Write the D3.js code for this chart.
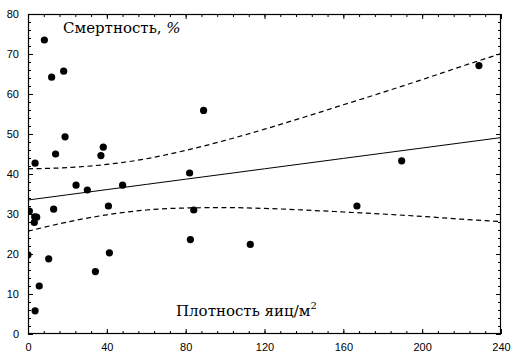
<!DOCTYPE html>
<html><head><meta charset="utf-8">
<script src="https://cdn.jsdelivr.net/npm/d3@7"></script>
<style>body{margin:0;background:#fff}svg{display:block}</style>
</head><body>
<svg id="c" width="511" height="352"></svg>
<script>
// Scatter data: egg density (per m^2) vs mortality (%)
const density = [8.3,12.0,18.1,18.8,14.0,38.2,37.0,3.6,24.4,30.1,48.0,0.7,13.0,40.8,3.4,4.4,3.2,0,10.5,41.3,34.2,5.7,3.6,89.1,82.0,84.1,82.4,112.8,228.8,166.9,189.6];
const mortality = [73.5,64.2,65.7,49.3,45.0,46.7,44.6,42.7,37.2,36.0,37.2,30.75,31.2,32.0,29.3,29.2,27.9,19.8,18.8,20.3,15.6,12.0,5.8,55.9,40.25,31.0,23.6,22.4,67.1,32.0,43.3];
// Regression line and confidence band, read at these x positions
const bandX = [0,20,40,60,80,100,120,140,160,180,200,220,240];
const fitY = [33.5,34.8,36.1,37.4,38.7,40.0,41.3,42.6,43.9,45.2,46.5,47.8,49.1];
const upperY = [41.3,41.6,42.4,43.8,45.9,48.4,51.2,54.2,57.3,60.4,63.6,66.9,70.1];
const lowerY = [25.7,28.0,29.8,31.0,31.5,31.6,31.4,31.0,30.5,30.0,29.4,28.7,28.1];
const xTicks = [0,40,80,120,160,200,240];
const yTicks = [0,10,20,30,40,50,60,70,80];
const yTitle = "Смертность, ";
const xTitle = "Плотность яиц/м";

const svg = d3.select("#c");
const L=28, R=501, T=14, B=334;
const x = d3.scaleLinear().domain([0,240]).range([L,R]);
const y = d3.scaleLinear().domain([0,80]).range([B,T]);

svg.append("clipPath").attr("id","clip").append("rect")
  .attr("x",L).attr("y",T).attr("width",R-L).attr("height",B-T);

const g = svg.append("g").attr("clip-path","url(#clip)");
const line = d3.line().x(d=>x(d[0])).y(d=>y(d[1])).curve(d3.curveMonotoneX);
g.append("path").attr("d", line(bandX.map((v,i)=>[v,fitY[i]])))
  .attr("fill","none").attr("stroke","#000").attr("stroke-width",1);
[upperY, lowerY].forEach(arr=>{
  g.append("path").attr("d", line(bandX.map((v,i)=>[v,arr[i]])))
    .attr("fill","none").attr("stroke","#000").attr("stroke-width",1.2)
    .attr("stroke-dasharray","5,3.5");
});
g.selectAll("circle").data(density.map((d,i)=>[d,mortality[i]])).join("circle")
  .attr("cx",d=>x(d[0])).attr("cy",d=>y(d[1])).attr("r",3.6).attr("fill","#000");

// Axes (ticks inward on all sides)
const font = "'Liberation Sans', Arial, sans-serif";
function styleAxis(sel){
  sel.select(".domain").remove();
  sel.selectAll("text").attr("font-family",font).attr("font-size",11).attr("fill","#000");
  sel.selectAll("line").attr("stroke","#000");
}
const xMinor = d3.range(0,241,8);
const yMinor = d3.range(0,81,2);
// bottom
const bx = svg.append("g").attr("transform",`translate(0,${B})`)
  .call(d3.axisBottom(x).tickValues(xTicks).tickSize(-5).tickPadding(9).tickFormat(d3.format("d")));
styleAxis(bx);
svg.append("g").attr("transform",`translate(0,${B})`)
  .call(d3.axisBottom(x).tickValues(xMinor).tickSize(-3).tickFormat(""))
  .call(styleAxis);
// top
svg.append("g").attr("transform",`translate(0,${T})`)
  .call(d3.axisTop(x).tickValues(xTicks).tickSize(-5).tickFormat("")).call(styleAxis);
svg.append("g").attr("transform",`translate(0,${T})`)
  .call(d3.axisTop(x).tickValues(xMinor).tickSize(-3).tickFormat("")).call(styleAxis);
// left
const ly = svg.append("g").attr("transform",`translate(${L},0)`)
  .call(d3.axisLeft(y).tickValues(yTicks).tickSize(-5).tickPadding(9).tickFormat(d3.format("d")));
styleAxis(ly);
svg.append("g").attr("transform",`translate(${L},0)`)
  .call(d3.axisLeft(y).tickValues(yMinor).tickSize(-3).tickFormat("")).call(styleAxis);
// right
svg.append("g").attr("transform",`translate(${R},0)`)
  .call(d3.axisRight(y).tickValues(yTicks).tickSize(-5).tickFormat("")).call(styleAxis);
svg.append("g").attr("transform",`translate(${R},0)`)
  .call(d3.axisRight(y).tickValues(yMinor).tickSize(-3).tickFormat("")).call(styleAxis);

svg.append("rect").attr("x",L+0.5).attr("y",T+0.5).attr("width",R-L-1).attr("height",B-T-1)
  .attr("fill","none").attr("stroke","#000").attr("stroke-width",1.2);

const serif = "'DejaVu Serif', 'Liberation Serif', serif";
const t1 = svg.append("text").attr("x",63).attr("y",33).attr("font-family",serif).attr("font-size",15).attr("fill","#000");
t1.append("tspan").text(yTitle);
t1.append("tspan").attr("font-style","italic").text("%");
const t2 = svg.append("text").attr("x",176).attr("y",316).attr("font-family",serif).attr("font-size",15).attr("fill","#000");
t2.append("tspan").text(xTitle);
t2.append("tspan").attr("font-size",10).attr("dy",-7).text("2");
</script>
</body></html>
